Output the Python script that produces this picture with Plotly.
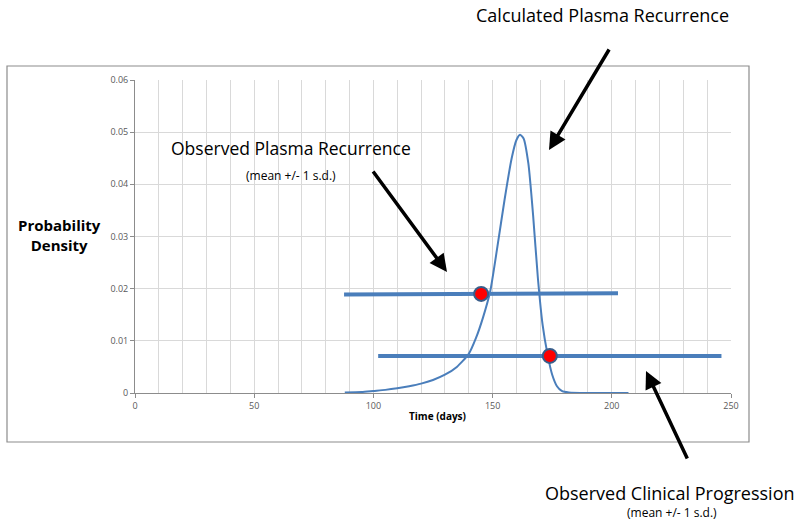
import plotly.graph_objects as go

# Calculated plasma recurrence density curve
curve_days = [88, 95, 100, 105, 110, 115, 120, 125, 130, 135, 140, 143, 146, 149, 152,
              155, 158, 160, 161.5, 163, 165, 167, 169, 171, 173, 175, 177, 179, 182,
              190, 200, 207]
curve_density = [0.0001, 0.0002, 0.0004, 0.0006, 0.0009, 0.0013, 0.0018, 0.0025, 0.0035,
                 0.0050, 0.0075, 0.0105, 0.0145, 0.0195, 0.0280, 0.0370, 0.0450, 0.0485,
                 0.0495, 0.0488, 0.0440, 0.0340, 0.0220, 0.0130, 0.0075, 0.0035, 0.0013,
                 0.0004, 0.0001, 0.0, 0.0, 0.0]

# Observed plasma recurrence: mean +/- 1 s.d.
plasma_range = [87.7, 202.6]
plasma_level = [0.0189, 0.0191]
plasma_mean = [145.2]
plasma_mean_y = [0.0190]

# Observed clinical progression: mean +/- 1 s.d.
clinical_range = [102, 246]
clinical_level = [0.0071, 0.0071]
clinical_mean = [174]
clinical_mean_y = [0.0071]

x_ticks = [0, 50, 100, 150, 200, 250]
y_ticks = [0, 0.01, 0.02, 0.03, 0.04, 0.05, 0.06]
y_tick_text = ["0", "0.01", "0.02", "0.03", "0.04", "0.05", "0.06"]

BLUE = "#4a7ebb"
W, H = 800, 526
L, R, T, B = 135, 69, 80, 133
PW, PH = W - L - R, H - T - B


def px(x):
    return (x - L) / PW


def py(y):
    return (H - B - y) / PH


fig = go.Figure()
fig.add_trace(go.Scatter(x=plasma_range, y=plasma_level, mode="lines",
                         line=dict(color=BLUE, width=4), hoverinfo="skip"))
fig.add_trace(go.Scatter(x=clinical_range, y=clinical_level, mode="lines",
                         line=dict(color=BLUE, width=4), hoverinfo="skip"))
fig.add_trace(go.Scatter(x=curve_days, y=curve_density, mode="lines",
                         line=dict(color=BLUE, width=2, shape="spline", smoothing=0.6)))
fig.add_trace(go.Scatter(x=plasma_mean + clinical_mean, y=plasma_mean_y + clinical_mean_y,
                         mode="markers",
                         marker=dict(color="#ff0000", size=14,
                                     line=dict(color="#385d8a", width=2))))

font_main = "Open Sans, Liberation Sans, sans-serif"

annotations = [
    dict(text="Calculated Plasma Recurrence", x=px(602), y=py(15), font=dict(size=18)),
    dict(text="Observed Plasma Recurrence", x=px(291), y=py(148), font=dict(size=17.5)),
    dict(text="(mean +/- 1 s.d.)", x=px(291), y=py(175), font=dict(size=12)),
    dict(text="Observed Clinical Progression", x=px(670), y=py(493), font=dict(size=18)),
    dict(text="(mean +/- 1 s.d.)", x=px(672), y=py(512), font=dict(size=12)),
    dict(text="<b>Probability<br>Density</b>", x=px(59), y=py(235), font=dict(size=15)),
    dict(text="<b>Time (days)</b>", x=px(437), y=py(416), font=dict(size=10)),
]
for a in annotations:
    a.update(xref="paper", yref="paper", showarrow=False, xanchor="center", yanchor="middle")
    a["font"].update(color="#000000", family=font_main)

arrows = [((610, 48), (549, 150)), ((372, 170), (447, 272)), ((688, 460), (646, 371))]
for (tx, ty), (hx, hy) in arrows:
    annotations.append(dict(xref="paper", yref="paper", x=px(hx), y=py(hy),
                            ax=tx - hx, ay=ty - hy, text="", showarrow=True,
                            arrowhead=2, arrowsize=1.0, arrowwidth=3.5, arrowcolor="#000000"))

fig.update_layout(
    width=W, height=H, showlegend=False,
    margin=dict(l=L, r=R, t=T, b=B),
    paper_bgcolor="white", plot_bgcolor="white",
    font=dict(family=font_main, color="#595959", size=9),
    annotations=annotations,
    shapes=[dict(type="rect", xref="paper", yref="paper",
                 x0=px(7), x1=px(749), y0=py(442), y1=py(66),
                 line=dict(color="#8c8c8c", width=1.2), layer="below")],
)
fig.update_xaxes(range=[0, 250], tickvals=x_ticks, showgrid=True, gridcolor="#d9d9d9",
                 gridwidth=1, minor=dict(dtick=10, showgrid=True, gridcolor="#d9d9d9"),
                 showline=True, linecolor="#8c8c8c", ticks="outside", ticklen=4,
                 tickcolor="#8c8c8c", zeroline=False, tickfont=dict(size=9, color="#595959"))
fig.update_yaxes(range=[0, 0.06], tickvals=y_ticks, ticktext=y_tick_text, showgrid=True,
                 gridcolor="#d9d9d9", showline=True, linecolor="#8c8c8c", ticks="outside",
                 ticklen=4, tickcolor="#8c8c8c", zeroline=False,
                 tickfont=dict(size=9, color="#595959"))

fig.write_html("out.html", config={"displayModeBar": False},
               post_script="document.body.style.margin='0px';document.body.style.overflow='hidden';")
